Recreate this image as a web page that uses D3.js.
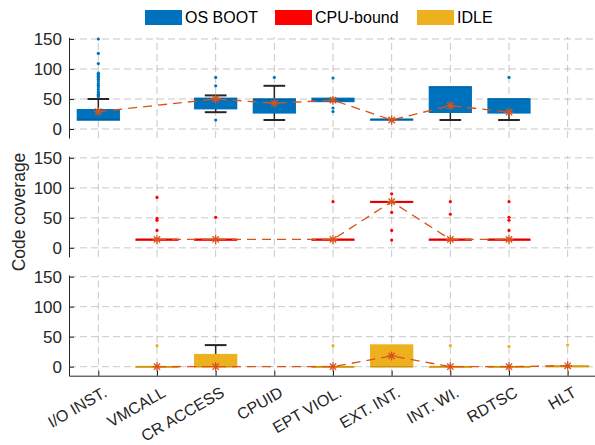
<!DOCTYPE html>
<html><head><meta charset="utf-8">
<script src="https://cdn.jsdelivr.net/npm/d3@7"></script>
<style>
html,body{margin:0;padding:0;background:#fff;}
svg{display:block;font-family:"Liberation Sans",Arial,Helvetica,sans-serif;}
</style></head>
<body>
<svg id="chart" width="595" height="445"></svg>
<script>
const categories = ["I/O INST.","VMCALL","CR ACCESS","CPUID","EPT VIOL.","EXT. INT.","INT. WI.","RDTSC","HLT"];
const seriesNames = ["OS BOOT","CPU-bound","IDLE"];
const seriesColors = ["#0072BD","#FF0000","#EDB120"];
const yTicks = [0,50,100,150];

// OS BOOT
const bootQ1     = [15, null, 34, 27, 46, 15, 28, 27, null];
const bootMedian = [16, null, 50, 49, 49, 16, 70, 50, null];
const bootQ3     = [32, null, 51, 50, 51, 16, 70, 50, null];
const bootLow    = [15, null, 28, 15, 46, 15, 15, 15, null];
const bootHigh   = [50, null, 56, 72, 51, 16, 70, 50, null];
const bootMean   = [29, null, 50, 43, 48, 15, 39, 28, null];
const bootOut    = [[150,126,109,93,91,88,86,83,80,76,73,70,66,62,60,58,56,54],[],[86,72,15],[86],[85,35,29],[],[],[86],[]];

// CPU-bound
const cpuQ1     = [null, 13, 13, null, 13, 76, 13, 13, null];
const cpuMedian = [null, 14, 14, null, 14, 77, 14, 14, null];
const cpuQ3     = [null, 14, 14, null, 14, 77, 14, 14, null];
const cpuLow    = [null, 13, 13, null, 13, 76, 13, 13, null];
const cpuHigh   = [null, 14, 14, null, 14, 77, 14, 14, null];
const cpuMean   = [null, 14, 14, null, 14, 77, 14, 14, null];
const cpuOut    = [[],[84,49,46,29],[51],[],[77],[90,59,29,13],[77,56],[77,51,46,29],[]];

// IDLE
const idleQ1     = [null, 0, 0, null, 0, 0, 0, 0, 0];
const idleMedian = [null, 0, 0, null, 0, 0, 0, 0, 1];
const idleQ3     = [null, 0, 20, null, 0, 36, 0, 0, 1];
const idleLow    = [null, 0, 0, null, 0, 0, 0, 0, 0];
const idleHigh   = [null, 0, 36, null, 0, 36, 0, 0, 1];
const idleMean   = [null, 0, 0, null, 0, 18, 0, 0, 1.5];
const idleOut    = [[],[35],[],[],[35],[],[35],[34],[36]];

const panels = [
  {q1:bootQ1, med:bootMedian, q3:bootQ3, lo:bootLow, hi:bootHigh, mean:bootMean, out:bootOut},
  {q1:cpuQ1, med:cpuMedian, q3:cpuQ3, lo:cpuLow, hi:cpuHigh, mean:cpuMean, out:cpuOut},
  {q1:idleQ1, med:idleMedian, q3:idleQ3, lo:idleLow, hi:idleHigh, mean:idleMean, out:idleOut}
];

const svg = d3.select("#chart");
const axisColor = "#262626";
const meanColor = "#D95319";
const x = d3.scaleLinear().domain([0.5, 9.5]).range([69, 597]);
const step = x(2) - x(1);
const boxW = step * 0.71;
const capW = step * 0.37;

function asterisk(cx, cy, r) {
  const d = r * 0.7071;
  return `M${cx-r},${cy}L${cx+r},${cy}M${cx},${cy-r}L${cx},${cy+r}` +
         `M${cx-d},${cy-d}L${cx+d},${cy+d}M${cx-d},${cy+d}L${cx+d},${cy-d}`;
}

panels.forEach((p, pi) => {
  const y0 = 129 + pi * 118.85;
  const y = d3.scaleLinear().domain([-15, 153]).range([y0 + 9, y0 - 91.8]);
  const col = seriesColors[pi];
  const g = svg.append("g");

  // grid
  const grid = g.append("g").attr("stroke", "#000").attr("stroke-opacity", 0.22)
    .attr("stroke-width", 1).attr("stroke-dasharray", "7,4");
  yTicks.forEach(t => grid.append("line").attr("x1", x(0.5)).attr("x2", x(9.5))
    .attr("y1", y(t)).attr("y2", y(t)));
  categories.forEach((c, i) => grid.append("line").attr("x1", x(i + 1)).attr("x2", x(i + 1))
    .attr("y1", y(-15)).attr("y2", y(153)));

  // boxes
  categories.forEach((c, i) => {
    if (p.q1[i] === null) return;
    const cx = x(i + 1);
    if (p.hi[i] > p.q3[i]) {
      g.append("line").attr("x1", cx).attr("x2", cx).attr("y1", y(p.q3[i])).attr("y2", y(p.hi[i]))
        .attr("stroke", axisColor).attr("stroke-width", 1.5);
      g.append("line").attr("x1", cx - capW/2).attr("x2", cx + capW/2).attr("y1", y(p.hi[i])).attr("y2", y(p.hi[i]))
        .attr("stroke", axisColor).attr("stroke-width", 2);
    }
    if (p.lo[i] < p.q1[i]) {
      g.append("line").attr("x1", cx).attr("x2", cx).attr("y1", y(p.q1[i])).attr("y2", y(p.lo[i]))
        .attr("stroke", axisColor).attr("stroke-width", 1.5);
      g.append("line").attr("x1", cx - capW/2).attr("x2", cx + capW/2).attr("y1", y(p.lo[i])).attr("y2", y(p.lo[i]))
        .attr("stroke", axisColor).attr("stroke-width", 2);
    }
    const top = y(p.q3[i]), bot = y(p.q1[i]);
    g.append("rect").attr("x", cx - boxW/2).attr("y", top).attr("width", boxW)
      .attr("height", Math.max(bot - top, 0.5))
      .attr("fill", col).attr("stroke", col).attr("stroke-width", 1.6);
    g.append("line").attr("x1", cx - boxW/2).attr("x2", cx + boxW/2).attr("y1", y(p.med[i])).attr("y2", y(p.med[i]))
      .attr("stroke", d3.color(col).darker(0.5)).attr("stroke-width", 1.2);
    p.out[i].forEach(v => g.append("circle").attr("cx", cx).attr("cy", y(v)).attr("r", 1.6).attr("fill", col));
  });

  // mean line
  const pts = p.mean.map((v, i) => [i + 1, v]).filter(d => d[1] !== null);
  g.append("path").datum(pts)
    .attr("d", d3.line().x(d => x(d[0])).y(d => y(d[1])))
    .attr("fill", "none").attr("stroke", meanColor).attr("stroke-width", 1.3)
    .attr("stroke-dasharray", "9,6");
  pts.forEach(d => g.append("path").attr("d", asterisk(x(d[0]), y(d[1]), 4.5))
    .attr("stroke", meanColor).attr("stroke-width", 1.3).attr("fill", "none"));

  // y axis
  const ya = g.append("g").attr("transform", `translate(${x(0.5)},0)`)
    .call(d3.axisLeft(y).tickValues(yTicks).tickSizeInner(-5).tickSizeOuter(0).tickPadding(7));
  ya.select(".domain").attr("stroke", axisColor).attr("stroke-width", 1);
  ya.selectAll(".tick line").attr("stroke", axisColor);
  ya.selectAll(".tick text").attr("fill", axisColor).attr("font-size", 17)
    .attr("font-family", "Liberation Sans, Arial, sans-serif");

  if (pi === 2) {
    const xa = g.append("g").attr("transform", `translate(0,${y(-15)})`)
      .call(d3.axisBottom(x).tickValues(d3.range(1, 10)).tickSizeInner(-5).tickSizeOuter(0).tickFormat(() => ""));
    xa.select(".domain").attr("stroke", axisColor);
    xa.selectAll(".tick line").attr("stroke", axisColor);
    categories.forEach((c, i) => {
      g.append("text").attr("transform", `translate(${x(i + 1) + 4},${y(-15) + 10}) rotate(-30)`)
        .attr("text-anchor", "end").attr("dy", "0.72em")
        .attr("font-size", 16).attr("fill", axisColor).text(c);
    });
  }
});

// y label
svg.append("text").attr("transform", "translate(25,212) rotate(-90)")
  .attr("text-anchor", "middle").attr("font-size", 17.5).attr("fill", axisColor).text("Code coverage");

// legend
const legX = [145, 275, 417];
seriesNames.forEach((s, i) => {
  svg.append("rect").attr("x", legX[i]).attr("y", 10).attr("width", 37).attr("height", 15)
    .attr("fill", seriesColors[i]);
  svg.append("text").attr("x", legX[i] + 40).attr("y", 23.3).attr("font-size", 16)
    .attr("fill", "#000").text(s);
});
</script>
</body></html>
